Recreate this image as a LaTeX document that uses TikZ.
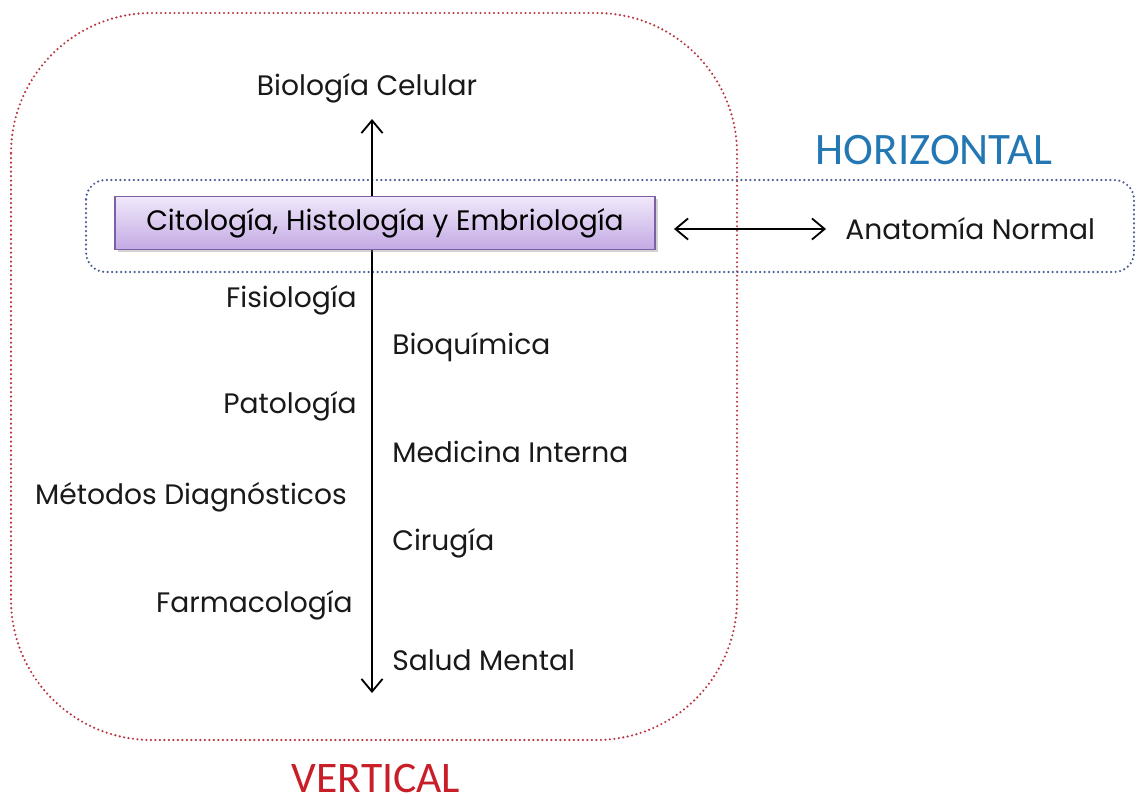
\documentclass[tikz,border=0pt]{standalone}
\usepackage{fontspec}
\setmainfont{Poppins}
\newfontfamily\calib{Carlito}
\usetikzlibrary{arrows.meta,shadows}
\definecolor{redbox}{RGB}{185,55,65}
\definecolor{bluebox}{RGB}{75,95,150}
\definecolor{horiz}{RGB}{35,120,180}
\definecolor{vert}{RGB}{200,30,40}
\definecolor{ptop}{RGB}{240,232,250}
\definecolor{pbot}{RGB}{195,170,228}
\definecolor{pborder}{RGB}{125,95,165}
\tikzset{
  lbl/.style={font=\fontsize{20}{24}\selectfont, inner sep=0pt, text=black!90},
  arr/.style={line width=1.3pt, -{Straight Barb[length=9pt,width=15pt]}},
  darr/.style={line width=1.3pt, {Straight Barb[length=9pt,width=15pt]}-{Straight Barb[length=9pt,width=15pt]}},
  dotbox/.style={line width=1.7pt, line cap=round, dash pattern=on 0pt off 3.2pt},
}
\begin{document}
\begin{tikzpicture}[x=0.025cm,y=-0.025cm]
\useasboundingbox (0,0) rectangle (1135,801);
\fill[white] (0,0) rectangle (1135,801);
% red rounded box
\draw[dotbox, redbox, rounded corners=100] (11,13) rectangle (737,740);
% blue rounded box
\begin{scope}
\clip (0,0) rectangle (1135,801);
\draw[dotbox, bluebox, rounded corners=14] (86,180) rectangle (1134,272);
\end{scope}
% vertical axis
\coordinate (top) at (372,119);
\coordinate (bot) at (372,693);
\node[lbl] (bio) at (367,88) {Biología Celular};
\draw[arr] (372,223) -- (top);
\draw[arr] (372,223) -- (bot);
% central box
\node[draw=pborder, line width=1pt, top color=ptop, bottom color=pbot,
      drop shadow={shadow xshift=2pt, shadow yshift=-2pt, opacity=0.35},
      minimum width=540*0.025cm, minimum height=53*0.025cm, inner sep=0pt,
      font=\fontsize{20}{24}\selectfont] (che) at (385,223) {Citología, Histología y Embriología};
% horizontal
\node[lbl, anchor=west] (ana) at (845,229) {Anatomía Normal};
\coordinate (hl) at (674,229);
\coordinate (hr) at (826,229);
\draw[darr] (hl) -- (hr);
\node[font=\calib\fontsize{32}{36}\selectfont, text=horiz, inner sep=0pt] (hz) at (934,150) {HORIZONTAL};
% left labels
\node[lbl, anchor=east] (fis) at (357,300) {Fisiología};
\node[lbl, anchor=east] (pat) at (357,406) {Patología};
\node[lbl, anchor=east] (met) at (347,497) {Métodos Diagnósticos};
\node[lbl, anchor=east] (far) at (353,605) {Farmacología};
% right labels
\node[lbl, anchor=west] (bq) at (392,347) {Bioquímica};
\node[lbl, anchor=west] (mi) at (392,452) {Medicina Interna};
\node[lbl, anchor=west] (ci) at (392,543) {Cirugía};
\node[lbl, anchor=west] (sm) at (392,660) {Salud Mental};
% vertical title
\node[font=\calib\fontsize{31}{36}\selectfont, text=vert, inner sep=0pt] (vt) at (376,778) {VERTICAL};
\end{tikzpicture}
\end{document}
